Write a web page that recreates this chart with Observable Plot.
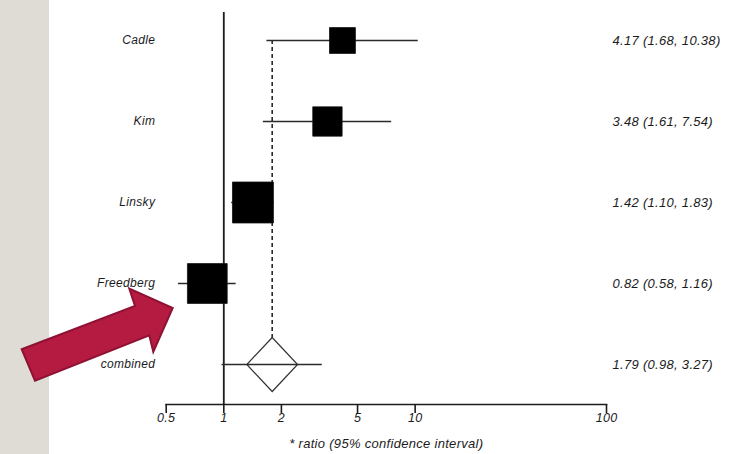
<!DOCTYPE html>
<html>
<head>
<meta charset="utf-8">
<script src="https://cdn.jsdelivr.net/npm/d3@7"></script>
<script src="https://cdn.jsdelivr.net/npm/@observablehq/plot@0.6"></script>
<style>
  html, body { margin: 0; padding: 0; }
  body {
    width: 736px; height: 454px; overflow: hidden; position: relative;
    background: linear-gradient(to right, #dfdcd6 0, #dfdcd6 49.5px, #ffffff 49.5px);
  }
  #chart { position: absolute; left: 0; top: 0; }
  #overlay { position: absolute; left: 0; top: 0; pointer-events: none; }
</style>
</head>
<body>
<div id="chart"></div>
<svg id="overlay" width="736" height="454"></svg>
<script>
// ---- data ----
const studies   = ["Cadle", "Kim", "Linsky", "Freedberg"];
const estimates = [4.17, 3.48, 1.42, 0.82];
const lowers    = [1.68, 1.61, 1.10, 0.58];
const uppers    = [10.38, 7.54, 1.83, 1.16];
const weights   = [14, 18, 35, 33];          // relative study weights (%), box area

const pooledName  = "combined";
const pooledEst   = 1.79;
const pooledLower = 0.98;
const pooledUpper = 3.27;

const xTicks = [0.5, 1, 2, 5, 10, 100];
const xTickLabels = ["0.5", "1", "2", "5", "10", "100"];
const xLabel = "* ratio (95% confidence interval)";

// ---- tables built from the arrays ----
const rows = studies.map((name, i) => ({
  name, est: estimates[i], lo: lowers[i], hi: uppers[i], w: weights[i]
}));
const pooled = {name: pooledName, est: pooledEst, lo: pooledLower, hi: pooledUpper};
const allRows = [...rows, pooled];
const tickRows = xTicks.map((v, i) => ({v, label: xTickLabels[i]}));
const fmt = d3.format(".2f");
const labelOf = d => `${fmt(d.est)} (${fmt(d.lo)}, ${fmt(d.hi)})`;

// custom diamond symbol for the pooled estimate
const diamond = {
  draw(ctx, size) {
    const r = Math.sqrt(size / Math.PI);
    ctx.moveTo(0, -r);
    ctx.lineTo(r * 0.94, 0);
    ctx.lineTo(0, r);
    ctx.lineTo(-r * 0.94, 0);
    ctx.closePath();
  }
};

const ink = "#1c1c1c";

const chart = Plot.plot({
  width: 736,
  height: 454,
  marginTop: 12,
  marginBottom: 50,
  marginLeft: 165.7,
  marginRight: 130,
  style: {
    fontFamily: "'Liberation Sans', Arial, sans-serif",
    letterSpacing: "0.3px",
    color: ink,
    background: "transparent"
  },
  x: {type: "log", domain: [0.5, 100]},
  y: {type: "point", domain: allRows.map(d => d.name), range: [39, 364], padding: 0, axis: null},
  r: {type: "sqrt", domain: [0, 35], range: [0, 23.1]},
  marks: [
    // x axis line and ticks
    Plot.frame({anchor: "bottom", stroke: ink, strokeWidth: 1.6}),
    Plot.axisX({
      ticks: xTicks, tickSize: 9, tickFormat: () => "", strokeWidth: 1.6, stroke: ink, label: null
    }),
    Plot.text(tickRows, {
      x: "v", text: "label", frameAnchor: "bottom", dy: 17,
      fontSize: 12.5, fontStyle: "italic", fill: ink
    }),
    Plot.text([xLabel], {
      frameAnchor: "bottom", dy: 43, fontSize: 13, fontStyle: "italic", fill: ink
    }),
    // line of no effect
    Plot.ruleX([1], {stroke: ink, strokeWidth: 1.8}),
    // dashed line at pooled estimate
    Plot.ruleX([pooled], {
      x: "est", y1: () => studies[0], y2: "name",
      stroke: ink, strokeWidth: 1.5, strokeDasharray: "4,3"
    }),
    // pooled diamond
    Plot.dot([pooled], {
      x: "est", y: "name", symbol: diamond, r: 27,
      fill: "white", stroke: "#333", strokeWidth: 1.2
    }),
    // confidence intervals
    Plot.ruleY(allRows, {y: "name", x1: "lo", x2: "hi", stroke: "#2a2a2a", strokeWidth: 1.4}),
    // study boxes
    Plot.dot(rows, {x: "est", y: "name", r: "w", symbol: "square", fill: "#000", stroke: "#111", strokeWidth: 0.8}),
    // study names
    Plot.text(allRows, {
      y: "name", text: "name", frameAnchor: "left", textAnchor: "end", dx: -11,
      fontSize: 12, fontStyle: "italic", fill: ink
    }),
    // estimate labels
    Plot.text(allRows, {
      y: "name", text: labelOf, frameAnchor: "right", textAnchor: "start", dx: 6,
      fontSize: 13, fontStyle: "italic", fill: ink
    })
  ]
});
document.getElementById("chart").appendChild(chart);

// decorative annotation arrow (not data)
d3.select("#overlay").append("polygon")
  .attr("points", "21.7,349.3 135,306 129.3,288.7 172.7,308 153.3,352 149.3,335.3 35,380.7")
  .attr("fill", "#b51b41")
  .attr("stroke", "#8e1233")
  .attr("stroke-width", 2)
  .attr("stroke-linejoin", "miter");
</script>
</body>
</html>
